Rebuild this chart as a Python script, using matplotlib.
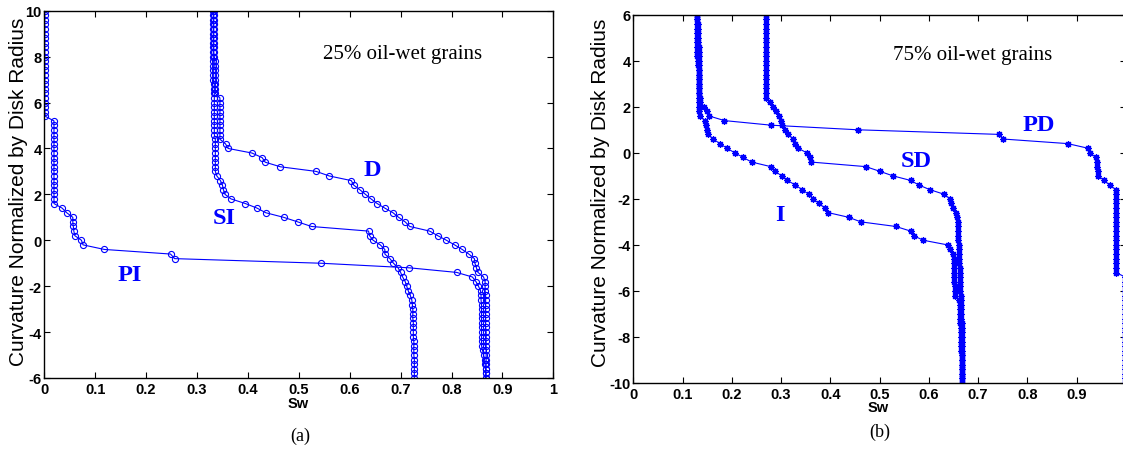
import matplotlib
matplotlib.use('Agg')
import matplotlib.pyplot as plt

# ---------------- data ----------------
# curvature levels (y) for panel (a)
levels_a = [10.0, 9.8, 9.6, 9.4, 9.2, 9.0, 8.8, 8.6, 8.4, 8.2,
            8.0, 7.8, 7.6, 7.4, 7.2, 7.0, 6.8, 6.6, 6.4, 6.2,
            6.0, 5.8, 5.6, 5.4, 5.2, 5.0, 4.8, 4.6, 4.4, 4.2,
            4.0, 3.8, 3.6, 3.4, 3.2, 3.0, 2.8, 2.6, 2.4, 2.2,
            2.0, 1.8, 1.6, 1.4, 1.2, 1.0, 0.8, 0.6, 0.4, 0.2,
            0.0, -0.2, -0.4, -0.6, -0.8, -1.0, -1.2, -1.4, -1.6, -1.8,
            -2.0, -2.2, -2.4, -2.6, -2.8, -3.0, -3.2, -3.4, -3.6, -3.8,
            -4.0, -4.2, -4.4, -4.6, -4.8, -5.0, -5.2, -5.4, -5.6, -5.8,
            -6.0]

sw_PI = [0.001, 0.001, 0.001, 0.001, 0.001, 0.001, 0.001, 0.001, 0.001, 0.001,
         0.001, 0.001, 0.001, 0.001, 0.001, 0.001, 0.001, 0.001, 0.001, 0.001,
         0.001, 0.001, 0.001, 0.002, 0.019, 0.019, 0.019, 0.019, 0.019, 0.019,
         0.019, 0.019, 0.019, 0.019, 0.019, 0.019, 0.019, 0.019, 0.019, 0.019,
         0.019, 0.019, 0.019, 0.035, 0.044, 0.056, 0.056, 0.057, 0.058, 0.060,
         0.073, 0.076, 0.118, 0.248, 0.256, 0.543, 0.717, 0.810, 0.841, 0.848,
         0.853, 0.857, 0.858, 0.858, 0.859, 0.859, 0.859, 0.859, 0.859, 0.859,
         0.859, 0.859, 0.859, 0.859, 0.861, 0.863, 0.865, 0.866, 0.867, 0.867,
         0.867]

sw_D = [0.333, 0.333, 0.333, 0.333, 0.333, 0.333, 0.333, 0.333, 0.333, 0.333,
        0.334, 0.335, 0.335, 0.336, 0.336, 0.336, 0.336, 0.336, 0.336, 0.345,
        0.345, 0.345, 0.345, 0.345, 0.345, 0.345, 0.345, 0.345, 0.345, 0.356,
        0.361, 0.408, 0.428, 0.434, 0.464, 0.534, 0.560, 0.603, 0.608, 0.620,
        0.631, 0.642, 0.654, 0.669, 0.685, 0.696, 0.709, 0.718, 0.757, 0.773,
        0.790, 0.806, 0.821, 0.834, 0.845, 0.846, 0.849, 0.852, 0.863, 0.866,
        0.866, 0.866, 0.867, 0.867, 0.867, 0.867, 0.867, 0.867, 0.867, 0.867,
        0.868, 0.868, 0.868, 0.868, 0.868, 0.868, 0.868, 0.868, 0.868, 0.868,
        0.868]

sw_SI = [0.332, 0.332, 0.332, 0.332, 0.332, 0.332, 0.332, 0.332, 0.332, 0.332,
         0.332, 0.332, 0.332, 0.332, 0.332, 0.332, 0.334, 0.334, 0.334, 0.334,
         0.334, 0.334, 0.334, 0.334, 0.334, 0.334, 0.334, 0.334, 0.336, 0.336,
         0.336, 0.336, 0.336, 0.336, 0.336, 0.336, 0.339, 0.346, 0.350, 0.352,
         0.355, 0.367, 0.395, 0.418, 0.435, 0.470, 0.498, 0.525, 0.637, 0.639,
         0.646, 0.660, 0.669, 0.669, 0.679, 0.686, 0.695, 0.700, 0.704, 0.709,
         0.712, 0.715, 0.719, 0.722, 0.723, 0.724, 0.724, 0.724, 0.725, 0.725,
         0.725, 0.725, 0.726, 0.726, 0.726, 0.726, 0.727, 0.727, 0.727, 0.727,
         0.727]

# curvature levels (y) for panel (b)
levels_b = [6.0, 5.8, 5.6, 5.4, 5.2, 5.0, 4.8, 4.6, 4.4, 4.2,
            4.0, 3.8, 3.6, 3.4, 3.2, 3.0, 2.8, 2.6, 2.4, 2.2,
            2.0, 1.8, 1.6, 1.4, 1.2, 1.0, 0.8, 0.6, 0.4, 0.2,
            0.0, -0.2, -0.4, -0.6, -0.8, -1.0, -1.2, -1.4, -1.6, -1.8,
            -2.0, -2.2, -2.4, -2.6, -2.8, -3.0, -3.2, -3.4, -3.6, -3.8,
            -4.0, -4.2, -4.4, -4.6, -4.8, -5.0, -5.2, -5.4, -5.6, -5.8,
            -6.0, -6.2, -6.4, -6.6, -6.8, -7.0, -7.2, -7.4, -7.6, -7.8,
            -8.0, -8.2, -8.4, -8.6, -8.8, -9.0, -9.2, -9.4, -9.6, -9.8,
            -10.0]

sw_PD = [0.129, 0.129, 0.129, 0.129, 0.129, 0.129, 0.129, 0.129, 0.129, 0.129,
         0.131, 0.132, 0.133, 0.133, 0.134, 0.134, 0.134, 0.134, 0.135, 0.136,
         0.144, 0.149, 0.154, 0.185, 0.280, 0.456, 0.743, 0.750, 0.882, 0.923,
         0.927, 0.939, 0.941, 0.942, 0.943, 0.944, 0.956, 0.967, 0.980, 0.980,
         0.980, 0.980, 0.980, 0.980, 0.980, 0.980, 0.980, 0.980, 0.980, 0.980,
         0.980, 0.980, 0.980, 0.980, 0.980, 0.980, 0.980, 0.999, 0.999, 0.999,
         0.999, 0.999, 0.999, 0.999, 0.999, 0.999, 0.999, 0.999, 0.999, 0.999,
         0.999, 0.999, 0.999, 0.999, 0.999, 0.999, 0.999, 0.999, 0.999, 0.999,
         0.999]

sw_I = [0.130, 0.130, 0.131, 0.131, 0.132, 0.132, 0.132, 0.133, 0.133, 0.133,
        0.134, 0.134, 0.134, 0.134, 0.134, 0.134, 0.134, 0.134, 0.134, 0.134,
        0.134, 0.134, 0.135, 0.146, 0.148, 0.150, 0.152, 0.162, 0.176, 0.190,
        0.206, 0.223, 0.240, 0.279, 0.288, 0.301, 0.313, 0.329, 0.343, 0.356,
        0.365, 0.377, 0.389, 0.396, 0.437, 0.462, 0.533, 0.563, 0.569, 0.589,
        0.638, 0.644, 0.650, 0.652, 0.652, 0.652, 0.652, 0.652, 0.652, 0.653,
        0.653, 0.653, 0.662, 0.663, 0.663, 0.664, 0.664, 0.664, 0.665, 0.665,
        0.665, 0.666, 0.666, 0.666, 0.667, 0.667, 0.667, 0.667, 0.668, 0.668,
        0.668]

sw_SD = [0.269, 0.269, 0.269, 0.269, 0.269, 0.269, 0.269, 0.269, 0.269, 0.269,
         0.269, 0.269, 0.269, 0.269, 0.269, 0.269, 0.269, 0.269, 0.270, 0.278,
         0.284, 0.290, 0.295, 0.299, 0.302, 0.309, 0.314, 0.325, 0.328, 0.335,
         0.352, 0.358, 0.360, 0.472, 0.500, 0.527, 0.563, 0.580, 0.602, 0.631,
         0.643, 0.646, 0.650, 0.655, 0.658, 0.659, 0.659, 0.660, 0.660, 0.660,
         0.661, 0.661, 0.662, 0.662, 0.662, 0.663, 0.663, 0.663, 0.664, 0.664,
         0.664, 0.665, 0.665, 0.665, 0.666, 0.666, 0.666, 0.667, 0.667, 0.667,
         0.667, 0.667, 0.668, 0.668, 0.668, 0.668, 0.668, 0.668, 0.668, 0.668,
         0.668]

xticks = [0, 0.1, 0.2, 0.3, 0.4, 0.5, 0.6, 0.7, 0.8, 0.9, 1]
xtick_labels_a = ['0', '0.1', '0.2', '0.3', '0.4', '0.5', '0.6', '0.7', '0.8', '0.9', '1']
xtick_labels_b = ['0', '0.1', '0.2', '0.3', '0.4', '0.5', '0.6', '0.7', '0.8', '0.9', '']
yticks_a = [-6, -4, -2, 0, 2, 4, 6, 8, 10]
yticks_b = [-10, -8, -6, -4, -2, 0, 2, 4, 6]

# ---------------- figure ----------------
W, H = 1123, 452
fig = plt.figure(figsize=(W / 100, H / 100), dpi=100)
fig.patch.set_facecolor('white')

SANS = 'Liberation Sans'
SERIF = 'Liberation Serif'
BLUE = '#0000ff'

axA = fig.add_axes([44.3 / W, 1 - 379 / H, 509 / W, (379 - 11.7) / H])
axB = fig.add_axes([633.3 / W, 1 - 384 / H, 492.5 / W, (384 - 15.7) / H])

circ = dict(color=BLUE, lw=0.8, marker='o', ms=4.4, mfc='none', mec=BLUE, mew=0.8)
star = dict(color=BLUE, lw=0.8, marker=(8, 2, 0), ms=4.8, mec=BLUE, mew=0.9)

for sw in (sw_PI, sw_D, sw_SI):
    axA.plot(sw, levels_a, **circ)
for sw in (sw_PD, sw_I, sw_SD):
    axB.plot(sw, levels_b, **star)

for ax, yt, xl in ((axA, yticks_a, xtick_labels_a), (axB, yticks_b, xtick_labels_b)):
    ax.set_xlim(0, 1)
    ax.set_ylim(min(yt), max(yt))
    ax.set_xticks(xticks)
    ax.set_xticklabels(xl)
    ax.set_yticks(yt)
    ax.set_yticklabels([str(v) for v in yt])
    ax.tick_params(direction='in', top=True, right=True, length=4, width=0.8,
                   labelsize=10.5, pad=3)
    for lab in ax.get_xticklabels() + ax.get_yticklabels():
        lab.set_fontfamily(SANS)
        lab.set_fontweight('bold')
    for sp in ax.spines.values():
        sp.set_linewidth(1.0)
    ax.tick_params(axis='y', pad=2)

# curve labels
lab = dict(color=BLUE, fontsize=17.5, fontweight='bold', family=SERIF,
           ha='center', va='center')
axA.text(0.168, -1.48, 'PI', **lab)
axA.text(0.354, 1.0, 'SI', **lab)
axA.text(0.645, 3.07, 'D', **lab)
axA.text(0.704, 8.14, '25% oil-wet grains', fontsize=15, family=SERIF,
         ha='center', va='center')

axB.text(0.298, -2.66, 'I', **lab)
axB.text(0.575, -0.34, 'SD', **lab)
axB.text(0.824, 1.25, 'PD', **lab)
axB.text(0.688, 4.29, '75% oil-wet grains', fontsize=15, family=SERIF,
         ha='center', va='center')

# axis labels
fig.text(18.3 / W, 1 - 192 / H, 'Curvature Normalized by Disk Radius', rotation=90,
         fontsize=15, family=SANS, ha='center', va='center')
fig.text(600.7 / W, 1 - 192.5 / H, 'Curvature Normalized by Disk Radius', rotation=90,
         fontsize=15, family=SANS, ha='center', va='center')
fig.text(298 / W, 1 - 404 / H, 'Sw', fontsize=10.5, fontweight='bold', family=SANS,
         ha='center', va='center')
fig.text(878.3 / W, 1 - 408 / H, 'Sw', fontsize=10.5, fontweight='bold', family=SANS,
         ha='center', va='center')
fig.text(300 / W, 1 - 436.7 / H, '(a)', fontsize=13, family=SERIF, ha='center', va='center')
fig.text(880 / W, 1 - 432 / H, '(b)', fontsize=13, family=SERIF, ha='center', va='center')

fig.savefig('out.png', dpi=100)
